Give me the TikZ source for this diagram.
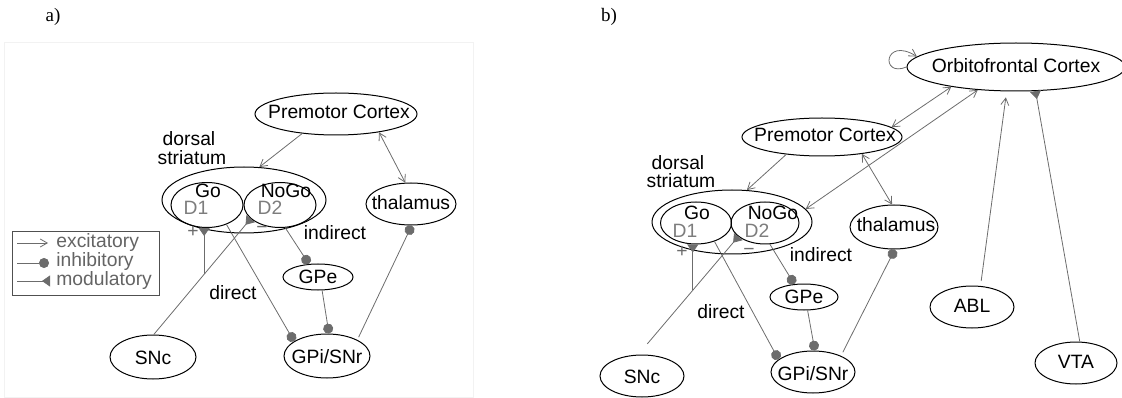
\documentclass[tikz,border=0pt]{standalone}
\usepackage{fontspec}
\setmainfont{Liberation Sans}
\newfontfamily\panelfont{Liberation Serif}
\usetikzlibrary{shapes.geometric,arrows.meta}

\definecolor{lgray}{RGB}{108,108,108}
\definecolor{dgray}{RGB}{125,125,125}
\definecolor{legtext}{RGB}{100,100,100}
\newcommand\lbfont{\fontsize{19.3}{22}\selectfont}

\tikzset{
	area/.style 2 args={draw, ellipse, line width=1pt, inner sep=0pt, minimum width=#1pt, minimum height=#2pt},
	lbl/.style={font=\lbfont, inner sep=0pt},
	dlbl/.style={lbl, text=dgray},
	legtxt/.style={lbl, text=legtext, anchor=west},
	conn/.style={draw=lgray, line width=0.8pt},
	excit/.style={conn, -{Straight Barb[length=7pt,width=8pt]}},
	bothway/.style={conn, {Straight Barb[length=7pt,width=8pt]}-{Straight Barb[length=7pt,width=8pt]}},
	inhib/.style={conn, -{Circle[length=10pt,fill=lgray]}},
	modul/.style={conn, -{Triangle[reversed,length=8pt,width=11pt,fill=lgray]}}
}
\tikzset{every picture/.style={line width=0.8pt}}

\begin{document}
\begin{tikzpicture}[x=1pt,y=1pt,yscale=-1,xscale=1]
	\useasboundingbox (0,0) rectangle (1122,398);

	% Text Node
	\node[font=\panelfont\fontsize{19}{22}\selectfont, inner sep=0pt] (pa) at (53,17) {a)};
	% Text Node
	\node[font=\panelfont\fontsize{19}{22}\selectfont, inner sep=0pt] (pb) at (609,17) {b)};

	%Shape: Rectangle (frame of panel a)
	\draw[black!5, line width=0.8pt] (4,42) rectangle (473,397);

	%%%%%%%%%%%% panel a %%%%%%%%%%%%
	%Shape: Ellipse
	\node[area={162}{42}] (pmc) at (336,114) {};
	\node[lbl] (pmctxt) at (339,112) {Premotor Cortex};
	%Shape: Ellipse
	\node[area={164}{66}] (str) at (244,200) {};
	\node[area={72}{45}] (go) at (207,205) {};
	\node[area={72}{45}] (nogo) at (280,205) {};
	\node[lbl] (gotxt) at (208,191) {Go};
	\node[dlbl] (done) at (196,208) {D1};
	\node[lbl] (nogotxt) at (286,191) {NoGo};
	\node[dlbl] (dtwo) at (270,208) {D2};
	%Shape: Ellipse
	\node[area={90}{42}] (thal) at (411,204) {};
	\node[lbl] (thaltxt) at (411,203) {thalamus};
	\node[area={70}{26}] (gpe) at (318,277) {};
	\node[lbl] (gpetxt) at (318,277) {GPe};
	\node[area={86}{44}] (gpi) at (327,356) {};
	\node[lbl] (gpitxt) at (327,357) {GPi/SNr};
	\node[area={86}{44}] (snc) at (153,357) {};
	\node[lbl] (snctxt) at (153,358) {SNc};

	% Text Node
	\node[lbl] (dorsal) at (189,139) {dorsal};
	\node[lbl] (striat) at (192,158) {striatum};
	\node[lbl] (indir) at (335,233) {indirect};
	\node[lbl] (dir) at (233,293) {direct};
	\node[lbl, text=lgray] (plus) at (193,232) {+};
	\node[lbl, text=lgray] (minus) at (262,230) {−};

	% connections
	\draw[excit] (pmc.210) -- (str.65);
	\draw[bothway] (pmc.337) -- (thal.105);
	\draw[inhib] (go.315) -- (gpi.156);
	\draw[inhib] (nogo.283) -- (gpe.125);
	\draw[inhib] (gpe.287) -- (gpi.85);
	\draw[inhib, shorten <=3pt] (gpi.28) -- (thal.272);
	\draw[modul] (snc.88) -- coordinate[pos=0.52] (sncbr) (nogo.205);
	\draw[modul] (sncbr) -- (sncbr |- go.south);

	% legend
	\draw[draw={rgb,255:red,80;green,80;blue,80}, line width=1pt] (12,232) rectangle (159,295);
	\coordinate (exca) at (17,243);
	\coordinate (excb) at (48,243);
	\coordinate (inha) at (17,263);
	\coordinate (inhb) at (49,263);
	\coordinate (moda) at (17,281);
	\coordinate (modb) at (50,281);
	\draw[excit] (exca) -- (excb);
	\draw[inhib] (inha) -- (inhb);
	\draw[modul] (moda) -- (modb);
	\node[legtxt] (exctxt) at (56,243) {excitatory};
	\node[legtxt] (inhtxt) at (56,262) {inhibitory};
	\node[legtxt] (modtxt) at (56,281) {modulatory};

	%%%%%%%%%%%% panel b %%%%%%%%%%%%
	%Shape: Ellipse
	\node[area={218}{48}] (ofc) at (1016,67) {};
	\node[lbl] (ofctxt) at (1016,66) {Orbitofrontal Cortex};
	\node[area={160}{38}] (pmcb) at (822,137) {};
	\node[lbl] (pmcbtxt) at (825,135) {Premotor Cortex};
	\node[area={160}{64}] (strb) at (732,222) {};
	\node[area={71}{42}] (gob) at (696,223) {};
	\node[area={68}{42}] (nogob) at (765,223) {};
	\node[lbl] (gobtxt) at (697,213) {Go};
	\node[dlbl] (doneb) at (685,231) {D1};
	\node[lbl] (nogobtxt) at (773,213) {NoGo};
	\node[dlbl] (dtwob) at (757,231) {D2};
	\node[area={88}{44}] (thalb) at (894,227) {};
	\node[lbl] (thalbtxt) at (896,225) {thalamus};
	\node[area={68}{26}] (gpeb) at (804,297) {};
	\node[lbl] (gpebtxt) at (804,297) {GPe};
	\node[area={84}{42}] (gpib) at (813,372) {};
	\node[lbl] (gpibtxt) at (813,374) {GPi/SNr};
	\node[area={84}{42}] (sncb) at (642,376) {};
	\node[lbl] (sncbtxt) at (642,377) {SNc};
	\node[area={84}{42}] (ablb) at (972,307) {};
	\node[lbl] (ablbtxt) at (972,306) {ABL};
	\node[area={82}{42}] (vtab) at (1076,363) {};
	\node[lbl] (vtabtxt) at (1076,362) {VTA};

	% Text Node
	\node[lbl] (dorsalb) at (678,163) {dorsal};
	\node[lbl] (striatb) at (681,181) {striatum};
	\node[lbl] (indirb) at (821,255) {indirect};
	\node[lbl] (dirb) at (721,312) {direct};
	\node[lbl, text=lgray] (plusb) at (682,252) {+};
	\node[lbl, text=lgray] (minusb) at (749,252) {−};

	% connections
	\draw[excit] (ofc.west) .. controls (880,78) and (884,36) .. (ofc.174);
	\draw[bothway] (pmcb.8) -- (ofc.197);
	\draw[bothway] (strb.10) -- (ofc.211);
	\draw[excit] (pmcb.206) -- (strb.65);
	\draw[bothway] (pmcb.337) -- (thalb.95);
	\draw[excit, shorten <=5pt, shorten >=6pt] (ablb.68) -- (ofc.249);
	\draw[modul] (vtab.80) -- (ofc.309);
	\draw[inhib] (gob.315) -- (gpib.160);
	\draw[inhib] (nogob.283) -- (gpeb.127);
	\draw[inhib] (gpeb.285) -- (gpib.85);
	\draw[inhib, shorten <=4pt] (gpib.30) -- (thalb.272);
	\draw[modul, shorten <=14pt] (sncb.100) -- coordinate[pos=0.545] (sncbbr) (nogob.207);
	\draw[modul] (sncbbr) -- (sncbbr |- gob.south);

\end{tikzpicture}
\end{document}
